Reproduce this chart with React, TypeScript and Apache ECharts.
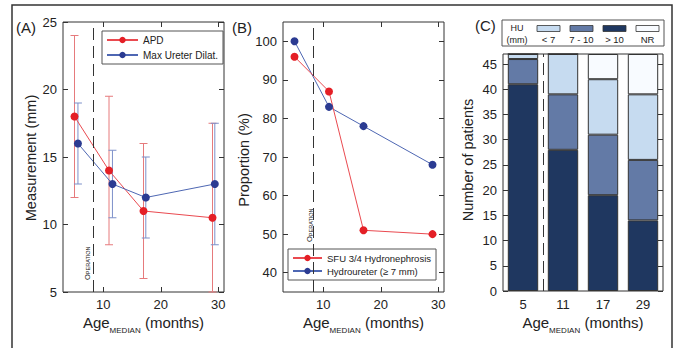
import React, { useEffect, useRef } from "react";
import * as echarts from "echarts";

// ---------- Data ----------
// Panel A: measurements (mm), median age (months)
const ageApd = [5, 11, 17, 29];
const apdMean = [18, 14, 11, 10.5];
const apdLow = [12, 8.5, 6, 5];
const apdHigh = [24, 19.5, 16, 17.5];
const ageUreter = [5.6, 11.6, 17.4, 29.4];
const ureterMean = [16, 13, 12, 13];
const ureterLow = [13, 10.5, 9, 8.5];
const ureterHigh = [19, 15.5, 15, 17.5];

// Panel B: proportions (%)
const ageB = [5, 11, 17, 29];
const sfuPct = [96, 87, 51, 50];
const hydroureterPct = [100, 83, 78, 68];

// Panel C: number of patients by HU (mm)
const ageCategories = ["5", "11", "17", "29"];
const huGt10 = [41, 28, 19, 14];
const hu7to10 = [5, 11, 12, 12];
const huLt7 = [1, 8, 11, 13];
const huNR = [0, 0, 5, 8];

const operationAge = 8.2;
const operationBoundary = 1; // between 1st and 2nd category (hidden value axis 0..4)
const ageTicks = [10, 20, 30];
const measurementTicks = [5, 10, 15, 20, 25];
const proportionTicks = [40, 50, 60, 70, 80, 90, 100];
const patientTicks = [0, 5, 10, 15, 20, 25, 30, 35, 40, 45];

// ---------- Style ----------
const FONT = '"Liberation Sans", Arial, Helvetica, sans-serif';
const TXT = "#222";
const AX = "#333";
const RED = "#e41f26";
const RED_LINE = "#ea4a50";
const RED_ERR = "#e67a7c";
const BLUE = "#2b3b92";
const BLUE_LINE = "#4e67b3";
const BLUE_ERR = "#7d90c9";
const C_GT10 = "#1f3760";
const C_7_10 = "#637aa6";
const C_LT7 = "#c6dbf0";
const C_NR = "#f8fbff";

function measure(text: string, size: number) {
  const c = document.createElement("canvas").getContext("2d")!;
  c.font = `${size}px "Liberation Sans"`;
  return c.measureText(text).width;
}

const txt = (
  text: string,
  x: number,
  y: number,
  size: number,
  opts: any = {}
) => ({
  type: "text",
  x,
  y,
  rotation: opts.rotation || 0,
  silent: true,
  style: {
    text,
    fontSize: size,
    fontFamily: FONT,
    fill: opts.fill || TXT,
    align: opts.align || "center",
    verticalAlign: opts.va || "middle",
    textAlign: opts.align || "center",
    textVerticalAlign: opts.va || "middle",
  },
});

function ageTitle(cx: number, y: number) {
  const w1 = measure("Age", 15);
  const w2 = measure("MEDIAN", 8);
  const w3 = measure(" (months)", 15);
  const x0 = cx - (w1 + w2 + w3) / 2;
  return {
    type: "group",
    children: [
      txt("Age", x0, y, 15, { align: "left", va: "bottom" }),
      txt("MEDIAN", x0 + w1, y + 4, 8, { align: "left", va: "bottom" }),
      txt(" (months)", x0 + w1 + w2, y, 15, { align: "left", va: "bottom" }),
    ],
  };
}

function operationLabel(gx: number, gy: number) {
  const w1 = measure("O", 7.5);
  return {
    type: "group",
    x: gx,
    y: gy,
    rotation: Math.PI / 2,
    children: [
      txt("O", 0, 0, 7.5, { align: "left", va: "bottom" }),
      txt("PERATION", w1, 0, 5.5, { align: "left", va: "bottom" }),
    ],
  };
}

function huLegend() {
  const items = [
    { label: "< 7", color: C_LT7, x: 537 },
    { label: "7 - 10", color: C_7_10, x: 570 },
    { label: "> 10", color: C_GT10, x: 603 },
    { label: "NR", color: C_NR, x: 636 },
  ];
  const children: any[] = [
    {
      type: "rect",
      shape: { x: 502, y: 20, width: 162, height: 26 },
      style: { fill: "#fff", stroke: "#555", lineWidth: 1 },
      silent: true,
    },
    txt("HU", 517, 28, 9),
    txt("(mm)", 517, 39.5, 9),
  ];
  items.forEach((it) => {
    children.push({
      type: "rect",
      shape: { x: it.x, y: 25.5, width: 23, height: 6 },
      style: { fill: it.color, stroke: "#333", lineWidth: 0.8 },
      silent: true,
    });
    children.push(txt(it.label, it.x + 11.5, 39.5, 9.5));
  });
  return { type: "group", children };
}

function valueX(gridIndex: number, position: string, show: boolean) {
  return {
    type: "value",
    gridIndex,
    position,
    min: 3,
    max: 31,
    axisLine: { show: false },
    splitLine: { show: false },
    axisTick: {
      show: true,
      inside: true,
      length: 5,
      customValues: ageTicks,
      lineStyle: { color: AX, width: 1 },
    },
    axisLabel: {
      show,
      customValues: ageTicks,
      fontSize: 13,
      color: TXT,
      fontFamily: FONT,
      margin: 6,
    },
  };
}

function valueY(
  gridIndex: number,
  position: string,
  show: boolean,
  min: number,
  max: number,
  ticks: number[]
) {
  return {
    type: "value",
    gridIndex,
    position,
    min,
    max,
    axisLine: { show: false },
    splitLine: { show: false },
    axisTick: {
      show: true,
      inside: true,
      length: 5,
      customValues: ticks,
      lineStyle: { color: AX, width: 1 },
    },
    axisLabel: {
      show,
      customValues: ticks,
      fontSize: 13,
      color: TXT,
      fontFamily: FONT,
      margin: 6,
    },
  };
}

function errorBar(
  name: string,
  xs: number[],
  lo: number[],
  hi: number[],
  color: string,
  xi: number,
  yi: number
) {
  return {
    type: "custom",
    name,
    xAxisIndex: xi,
    yAxisIndex: yi,
    z: 2,
    silent: true,
    data: xs.map((x, i) => [x, lo[i], hi[i]]),
    encode: { x: 0, y: [1, 2] },
    renderItem: (_params: any, api: any) => {
      const x = api.value(0);
      const top = api.coord([x, api.value(2)]);
      const bot = api.coord([x, api.value(1)]);
      const hw = 4;
      const style = { stroke: color, lineWidth: 1, fill: "none" };
      return {
        type: "group",
        children: [
          { type: "line", shape: { x1: top[0], y1: top[1], x2: bot[0], y2: bot[1] }, style },
          { type: "line", shape: { x1: top[0] - hw, y1: top[1], x2: top[0] + hw, y2: top[1] }, style },
          { type: "line", shape: { x1: bot[0] - hw, y1: bot[1], x2: bot[0] + hw, y2: bot[1] }, style },
        ],
      };
    },
  };
}

const dashedMark = (value: number) => ({
  symbol: ["none", "none"],
  silent: true,
  animation: false,
  label: { show: false },
  lineStyle: { type: [12, 6], color: "#333", width: 1 },
  data: [{ xAxis: value }],
});

function lineSeries(
  name: string,
  xs: number[],
  ys: number[],
  color: string,
  lineColor: string,
  xi: number,
  yi: number,
  extra: any = {}
) {
  return {
    type: "line",
    name,
    xAxisIndex: xi,
    yAxisIndex: yi,
    data: xs.map((x, i) => [x, ys[i]]),
    symbol: "circle",
    symbolSize: 8,
    itemStyle: { color },
    lineStyle: { color: lineColor, width: 1 },
    z: 3,
    ...extra,
  };
}

function barSeries(name: string, values: number[], color: string) {
  return {
    type: "bar",
    name,
    stack: "hu",
    xAxisIndex: 4,
    yAxisIndex: 4,
    barWidth: "76%",
    data: values,
    itemStyle: { color, borderColor: "#333", borderWidth: 1 },
  };
}

export default function App() {
  const ref = useRef<HTMLDivElement>(null);

  useEffect(() => {
    if (!ref.current) return;
    const chart = echarts.init(ref.current, undefined, { renderer: "svg" });
    const gridStyle = { show: true, borderColor: "#333", borderWidth: 1, backgroundColor: "transparent", containLabel: false };
    const option: any = {
      animation: false,
      backgroundColor: "#fff",
      textStyle: { fontFamily: FONT },
      grid: [
        { ...gridStyle, left: 63, top: 22, width: 161, height: 270 },
        { ...gridStyle, left: 283, top: 22, width: 161, height: 270 },
        { ...gridStyle, left: 503, top: 54, width: 160, height: 237 },
      ],
      xAxis: [
        valueX(0, "bottom", true),
        valueX(0, "top", false),
        valueX(1, "bottom", true),
        valueX(1, "top", false),
        {
          type: "category",
          gridIndex: 2,
          data: ageCategories,
          axisLine: { show: false },
          axisTick: { show: false },
          axisLabel: { fontSize: 13, color: TXT, fontFamily: FONT, margin: 7 },
        },
        { type: "value", gridIndex: 2, min: 0, max: 4, show: false },
      ],
      yAxis: [
        valueY(0, "left", true, 5, 25, measurementTicks),
        valueY(0, "right", false, 5, 25, measurementTicks),
        valueY(1, "left", true, 35, 105, proportionTicks),
        valueY(1, "right", false, 35, 105, proportionTicks),
        valueY(2, "left", true, 0, 47, patientTicks),
        valueY(2, "right", false, 0, 47, patientTicks),
      ],
      legend: [
        {
          data: ["APD", "Max Ureter Dilat."],
          left: 102,
          top: 31,
          orient: "vertical",
          padding: [4, 5, 4, 4],
          itemGap: 5,
          itemWidth: 31,
          itemHeight: 8,
          borderColor: "#555",
          borderWidth: 1,
          backgroundColor: "#fff",
          textStyle: { fontSize: 10, color: TXT, fontFamily: FONT },
          selectedMode: false,
        },
        {
          data: ["SFU 3/4 Hydronephrosis", "Hydroureter (≥ 7 mm)"],
          left: 288,
          top: 249,
          orient: "vertical",
          padding: [4, 5, 4, 4],
          itemGap: 3,
          itemWidth: 29,
          itemHeight: 8,
          borderColor: "#555",
          borderWidth: 1,
          backgroundColor: "#fff",
          textStyle: { fontSize: 9.5, color: TXT, fontFamily: FONT },
          selectedMode: false,
        },
      ],
      series: [
        errorBar("APD range", ageApd, apdLow, apdHigh, RED_ERR, 0, 0),
        errorBar("Ureter range", ageUreter, ureterLow, ureterHigh, BLUE_ERR, 0, 0),
        lineSeries("APD", ageApd, apdMean, RED, RED_LINE, 0, 0, { markLine: dashedMark(operationAge) }),
        lineSeries("Max Ureter Dilat.", ageUreter, ureterMean, BLUE, BLUE_LINE, 0, 0),
        lineSeries("Hydroureter (≥ 7 mm)", ageB, hydroureterPct, BLUE, BLUE_LINE, 2, 2, { markLine: dashedMark(operationAge) }),
        lineSeries("SFU 3/4 Hydronephrosis", ageB, sfuPct, RED, RED_LINE, 2, 2),
        barSeries("> 10", huGt10, C_GT10),
        barSeries("7 - 10", hu7to10, C_7_10),
        barSeries("< 7", huLt7, C_LT7),
        barSeries("NR", huNR, C_NR),
        {
          type: "scatter",
          name: "operation-c",
          xAxisIndex: 5,
          yAxisIndex: 4,
          data: [],
          markLine: dashedMark(operationBoundary),
        },
      ],
      graphic: [
        {
          type: "rect",
          shape: { x: 12, y: 5, width: 660, height: 400 },
          style: { fill: "none", stroke: "#333", lineWidth: 1.5 },
          silent: true,
          z: 100,
        },
        txt("(A)", 16, 27, 15, { align: "left" }),
        txt("(B)", 232, 27, 15, { align: "left" }),
        txt("(C)", 475, 25, 15, { align: "left" }),
        txt("Measurement (mm)", 31, 158, 14.5, { rotation: Math.PI / 2 }),
        txt("Proportion (%)", 244, 160, 14.5, { rotation: Math.PI / 2 }),
        txt("Number of patients", 468, 160, 14.5, { rotation: Math.PI / 2 }),
        ageTitle(143.5, 330),
        ageTitle(363.5, 330),
        ageTitle(583, 330),
        operationLabel(91, 280),
        operationLabel(313.5, 242),
        huLegend(),
      ],
    };
    chart.setOption(option);
    return () => chart.dispose();
  }, []);

  return (
    <div
      ref={ref}
      style={{ position: "absolute", left: 0, top: 0, width: 675, height: 348 }}
    />
  );
}
